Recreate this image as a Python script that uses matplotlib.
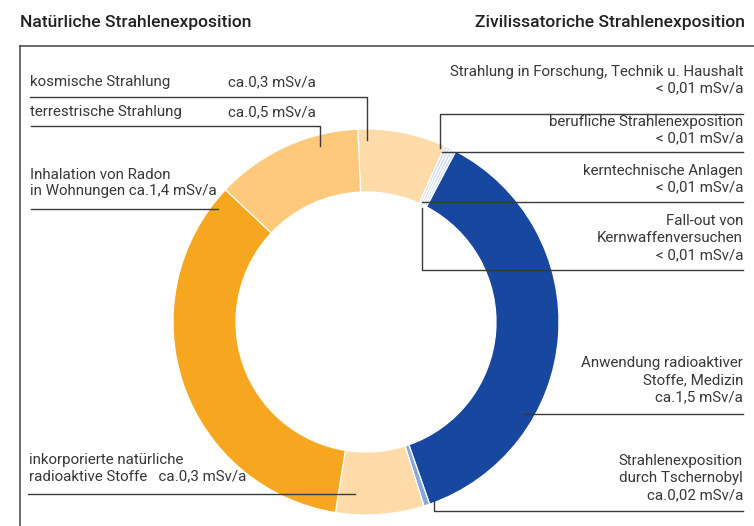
import matplotlib
matplotlib.use("Agg")
import matplotlib.pyplot as plt

W, H = 754, 526

# slices, clockwise from the top
names = ["kosmische Strahlung", "Forschung, Technik, Haushalt", "berufliche Strahlenexposition",
         "kerntechnische Anlagen", "Fall-out", "Medizin", "Tschernobyl",
         "inkorporierte", "Radon", "terrestrische Strahlung"]
values = [0.3, 0.01, 0.01, 0.01, 0.01, 1.5, 0.02, 0.3, 1.4, 0.5]
colors = ["#fedba8", "#cddcf2", "#cddcf2", "#cddcf2", "#cddcf2", "#17479e", "#86aadd",
          "#fedba8", "#f6a61f", "#fec97a"]

left_labels = [
    ("kosmische Strahlung", "ca.0,3 mSv/a", 82),
    ("terrestrische Strahlung", "ca.0,5 mSv/a", 112),
]
radon_label = "Inhalation von Radon\nin Wohnungen ca.1,4 mSv/a"
inkorp_label = "inkorporierte natürliche\nradioaktive Stoffe   ca.0,3 mSv/a"

right_labels = [
    ("Strahlung in Forschung, Technik u. Haushalt\n< 0,01 mSv/a", 80),
    ("berufliche Strahlenexposition\n< 0,01 mSv/a", 130),
    ("kerntechnische Anlagen\n< 0,01 mSv/a", 179),
    ("Fall-out von\nKernwaffenversuchen\n< 0,01 mSv/a", 238),
    ("Anwendung radioaktiver\nStoffe, Medizin\nca.1,5 mSv/a", 380),
    ("Strahlenexposition\ndurch Tschernobyl\nca.0,02 mSv/a", 478),
]

plt.rcParams['font.family'] = ['Roboto', 'DejaVu Sans']
txt = "#383838"
lc = "#3a3a3a"


def Y(py):
    return H - py


fig = plt.figure(figsize=(W / 100, H / 100), dpi=100)
ax = fig.add_axes([0, 0, 1, 1])

ax.pie(values, colors=colors, startangle=92.4, counterclock=False,
       radius=193, center=(366, Y(322)),
       wedgeprops=dict(width=63, edgecolor="white", linewidth=0.9))

ax.set_xlim(0, W)
ax.set_ylim(0, H)
ax.set_aspect("equal")
ax.axis("off")

# frame
ax.plot([20, W], [Y(46), Y(46)], color="#444444", lw=1.1)
ax.plot([20, 20], [Y(46), Y(H)], color="#444444", lw=1.1)

# titles
ax.text(20, Y(22), "Natürliche Strahlenexposition", fontsize=12.6, color="#222222",
        va="center", ha="left", fontweight="medium")
ax.text(745, Y(22), "Zivilissatoriche Strahlenexposition", fontsize=12.6, color="#222222",
        va="center", ha="right", fontweight="medium")

fs = 10.9
ls = 1.27

# left labels
for (name, val, y) in left_labels:
    ax.text(30, Y(y), name, fontsize=fs, color=txt, va="center", ha="left")
    ax.text(228, Y(y), val, fontsize=fs, color=txt, va="center", ha="left")
ax.text(30, Y(183), radon_label, fontsize=fs, color=txt, va="center", ha="left",
        linespacing=ls)
ax.text(29, Y(468), inkorp_label, fontsize=fs, color=txt, va="center", ha="left",
        linespacing=ls)

# left leader lines
ax.plot([30, 367, 367], [Y(97), Y(97), Y(140)], color=lc, lw=1)
ax.plot([31, 320, 320], [Y(126), Y(126), Y(146)], color=lc, lw=1)
ax.plot([31, 218], [Y(209), Y(209)], color=lc, lw=1)
ax.plot([28, 355], [Y(494), Y(494)], color=lc, lw=1)

# right labels
for (label, y) in right_labels:
    ax.text(743, Y(y), label, fontsize=fs, color=txt, va="center", ha="right",
            linespacing=ls)

# right leader lines
ax.plot([440, 440, 743], [Y(148), Y(114), Y(114)], color=lc, lw=1)
ax.plot([442, 743], [Y(152), Y(152)], color=lc, lw=1)
ax.plot([422, 743], [Y(202), Y(202)], color=lc, lw=1)
ax.plot([422, 422, 743], [Y(208), Y(270), Y(270)], color=lc, lw=1)
ax.plot([523, 743], [Y(414), Y(414)], color=lc, lw=1)
ax.plot([434, 434, 743], [Y(500), Y(511), Y(511)], color=lc, lw=1)

fig.savefig("out.png", dpi=100)
